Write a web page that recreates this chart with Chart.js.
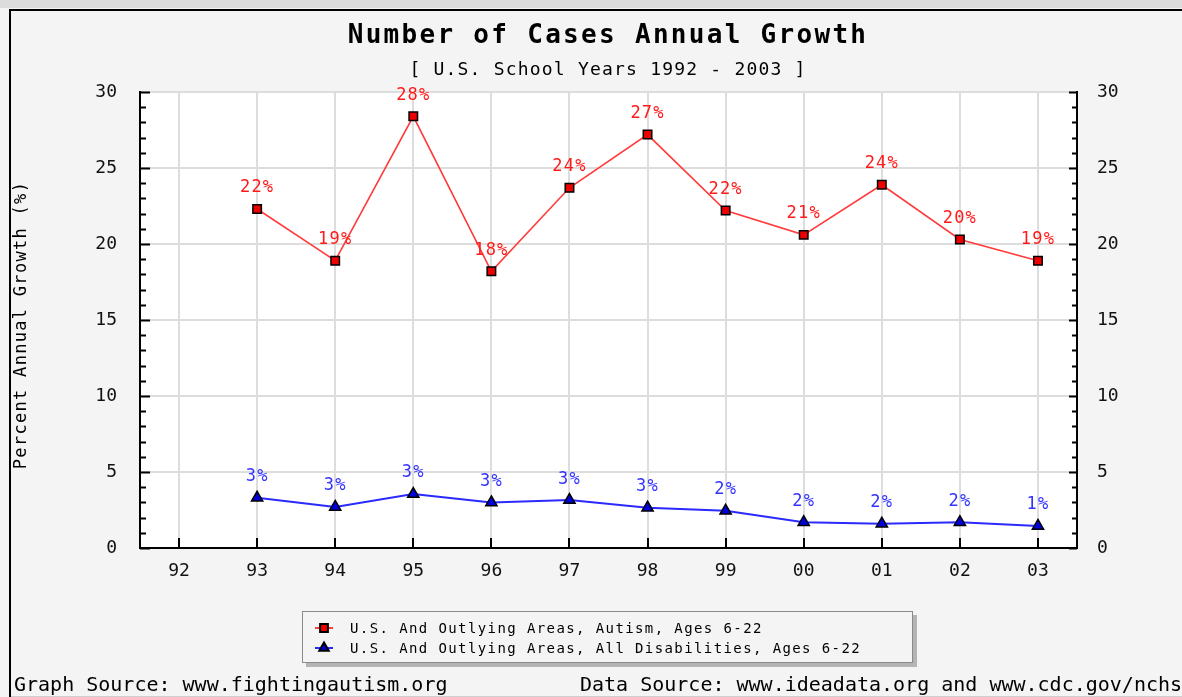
<!DOCTYPE html>
<html>
<head>
<meta charset="utf-8">
<script src="https://cdn.jsdelivr.net/npm/chart.js@4.4.1/dist/chart.umd.min.js"></script>
<style>
  html, body { margin: 0; padding: 0; background: #f4f4f4; }
  #wrap { width: 1182px; height: 697px; }
</style>
</head>
<body>
<div id="wrap"><canvas id="myChart" width="1182" height="697"></canvas></div>
<script>
// school years (92 = 1992 ... 03 = 2003)
const years = ['92', '93', '94', '95', '96', '97', '98', '99', '00', '01', '02', '03'];
// percent annual growth, autism ages 6-22
const autismGrowth = [null, 22.3, 18.9, 28.4, 18.2, 23.7, 27.2, 22.2, 20.6, 23.9, 20.3, 18.9];
const autismLabels = ['', '22%', '19%', '28%', '18%', '24%', '27%', '22%', '21%', '24%', '20%', '19%'];
// percent annual growth, all disabilities ages 6-22
const allGrowth = [null, 3.3, 2.7, 3.55, 3.0, 3.15, 2.65, 2.45, 1.7, 1.6, 1.7, 1.45];
const allLabels = ['', '3%', '3%', '3%', '3%', '3%', '3%', '2%', '2%', '2%', '2%', '1%'];
const yTicks = [0, 5, 10, 15, 20, 25, 30];

const MONO = '"DejaVu Sans Mono", "Liberation Mono", monospace';

const frame = {
    id: 'frame',
    beforeDraw(chart) {
        const ctx = chart.ctx, a = chart.chartArea;
        ctx.save();
        ctx.fillStyle = '#f4f4f4';
        ctx.fillRect(0, 0, chart.width, chart.height);
        ctx.fillStyle = '#dcdcdc';
        ctx.fillRect(0, 0, chart.width, 8);
        ctx.fillStyle = '#000';
        ctx.fillRect(9, 9, chart.width - 9, 2);
        ctx.fillRect(9, 9, 2, chart.height - 9);
        ctx.fillStyle = '#cfcfcf';
        ctx.fillRect(11, chart.height - 1, chart.width - 11, 1);
        ctx.fillStyle = '#fff';
        ctx.fillRect(a.left, a.top, a.right - a.left, a.bottom - a.top);
        ctx.restore();
    },
    afterDraw(chart) {
        const ctx = chart.ctx, a = chart.chartArea;
        const y = chart.scales.y, x = chart.scales.x;
        ctx.save();
        // inward tick marks
        ctx.strokeStyle = '#000';
        ctx.lineWidth = 2;
        ctx.beginPath();
        for (let v = 0; v <= 30; v++) {
            const py = Math.round(y.getPixelForValue(v)) + 0.5;
            const big = v % 5 === 0;
            ctx.moveTo(a.left, py); ctx.lineTo(a.left + (big ? 10 : 6), py);
            ctx.moveTo(a.right, py); ctx.lineTo(a.right - (big ? 8 : 5), py);
        }
        years.forEach((_, i) => {
            const px = Math.round(x.getPixelForValue(i));
            ctx.moveTo(px, a.bottom); ctx.lineTo(px, a.bottom - 10);
        });
        ctx.stroke();

        // titles
        ctx.fillStyle = '#000';
        ctx.textAlign = 'center';
        ctx.textBaseline = 'alphabetic';
        ctx.font = 'bold 26px ' + MONO;
        ctx.letterSpacing = '2.3px';
        ctx.fillText('Number of Cases Annual Growth', 608, 43);
        ctx.font = '18px ' + MONO;
        ctx.letterSpacing = '1.2px';
        ctx.fillText('[ U.S. School Years 1992 - 2003 ]', 608, 75);

        // y axis title
        ctx.save();
        ctx.translate(22, 325);
        ctx.rotate(-Math.PI / 2);
        ctx.textBaseline = 'middle';
        ctx.font = '17px ' + MONO;
        ctx.letterSpacing = '1.3px';
        ctx.fillText('Percent Annual Growth (%)', 0, 0);
        ctx.restore();

        // legend
        ctx.fillStyle = '#b4b4b4';
        ctx.fillRect(306, 615, 611, 52);
        ctx.fillStyle = '#f4f4f4';
        ctx.fillRect(302, 611, 611, 52);
        ctx.strokeStyle = '#8a8a8a';
        ctx.lineWidth = 1;
        ctx.strokeRect(302.5, 611.5, 610, 51);
        const items = [
            { text: 'U.S. And Outlying Areas, Autism, Ages 6-22', ds: 0, y: 628 },
            { text: 'U.S. And Outlying Areas, All Disabilities, Ages 6-22', ds: 1, y: 648 }
        ];
        items.forEach(it => {
            const d = chart.data.datasets[it.ds];
            ctx.strokeStyle = d.borderColor;
            ctx.lineWidth = 2;
            ctx.beginPath();
            ctx.moveTo(315, it.y); ctx.lineTo(333, it.y);
            ctx.stroke();
            ctx.fillStyle = d.pointBackgroundColor;
            ctx.strokeStyle = '#000';
            Chart.helpers.drawPoint(ctx, {
                pointStyle: d.pointStyle, radius: 5.5, rotation: 0,
                borderWidth: 1
            }, 324, it.y);
            ctx.fillStyle = '#000';
            ctx.textAlign = 'left';
            ctx.textBaseline = 'middle';
            ctx.font = '14px ' + MONO;
            ctx.letterSpacing = '1.4px';
            ctx.fillText(it.text, 350, it.y + 1);
        });

        // footer
        ctx.textAlign = 'left';
        ctx.textBaseline = 'alphabetic';
        ctx.font = '20px ' + MONO;
        ctx.letterSpacing = '0px';
        ctx.fillStyle = '#000';
        ctx.fillText('Graph Source: www.fightingautism.org', 14, 691);
        ctx.fillText('Data Source: www.ideadata.org and www.cdc.gov/nchs/', 580, 691);
        ctx.restore();
    },
    afterDatasetsDraw(chart) {
        const ctx = chart.ctx;
        const sets = [
            { labels: autismLabels, color: '#ff1a1a' },
            { labels: allLabels, color: '#3333ff' }
        ];
        ctx.save();
        ctx.font = '17px ' + MONO;
        ctx.letterSpacing = '1.2px';
        ctx.textAlign = 'center';
        ctx.textBaseline = 'middle';
        sets.forEach((s, di) => {
            const meta = chart.getDatasetMeta(di);
            ctx.fillStyle = s.color;
            meta.data.forEach((pt, i) => {
                if (!s.labels[i]) return;
                ctx.fillText(s.labels[i], pt.x, pt.y - 21);
            });
        });
        ctx.restore();
    }
};

new Chart(
    document.getElementById('myChart'),
    {
        type: 'line',
        data: {
            labels: years,
            datasets: [
                {
                    label: 'U.S. And Outlying Areas, Autism, Ages 6-22',
                    data: autismGrowth,
                    borderColor: '#ff3b3b',
                    borderWidth: 1.6,
                    pointStyle: 'rect',
                    pointRadius: 6,
                    pointBackgroundColor: '#ee0000',
                    pointBorderColor: '#000',
                    pointBorderWidth: 1.5,
                    tension: 0,
                    yAxisID: 'y',
                },
                {
                    label: 'U.S. And Outlying Areas, All Disabilities, Ages 6-22',
                    data: allGrowth,
                    borderColor: '#2a2aff',
                    borderWidth: 2,
                    pointStyle: 'triangle',
                    pointRadius: 6.5,
                    pointBackgroundColor: '#0000dd',
                    pointBorderColor: '#000',
                    pointBorderWidth: 1.5,
                    tension: 0,
                    yAxisID: 'y',
                }
            ]
        },
        options: {
            responsive: false,
            animation: false,
            events: [],
            layout: { padding: { top: 92, left: 0, right: 0, bottom: 0 } },
            plugins: {
                legend: { display: false },
                title: { display: false },
                tooltip: { enabled: false },
            },
            scales: {
                x: {
                    type: 'category',
                    offset: true,
                    grid: { color: '#dddddd', lineWidth: 2, drawTicks: false },
                    border: { color: '#000', width: 2 },
                    ticks: { color: '#111', padding: 13, font: { family: MONO, size: 18 } },
                    afterFit: s => { s.height = 149; },
                },
                y: {
                    position: 'left',
                    min: 0,
                    max: 30,
                    afterBuildTicks: s => { s.ticks = yTicks.map(v => ({ value: v })); },
                    grid: { color: '#dddddd', lineWidth: 2, drawTicks: false },
                    border: { color: '#000', width: 2 },
                    ticks: { color: '#111', padding: 23, font: { family: MONO, size: 18 } },
                    afterFit: s => { s.width = 140; },
                },
                y2: {
                    position: 'right',
                    min: 0,
                    max: 30,
                    afterBuildTicks: s => { s.ticks = yTicks.map(v => ({ value: v })); },
                    grid: { display: false, drawTicks: false },
                    border: { color: '#000', width: 2 },
                    ticks: { color: '#111', padding: 20, font: { family: MONO, size: 18 } },
                    afterFit: s => { s.width = 105; },
                },
            },
        },
        plugins: [frame],
    }
);
</script>
</body>
</html>
